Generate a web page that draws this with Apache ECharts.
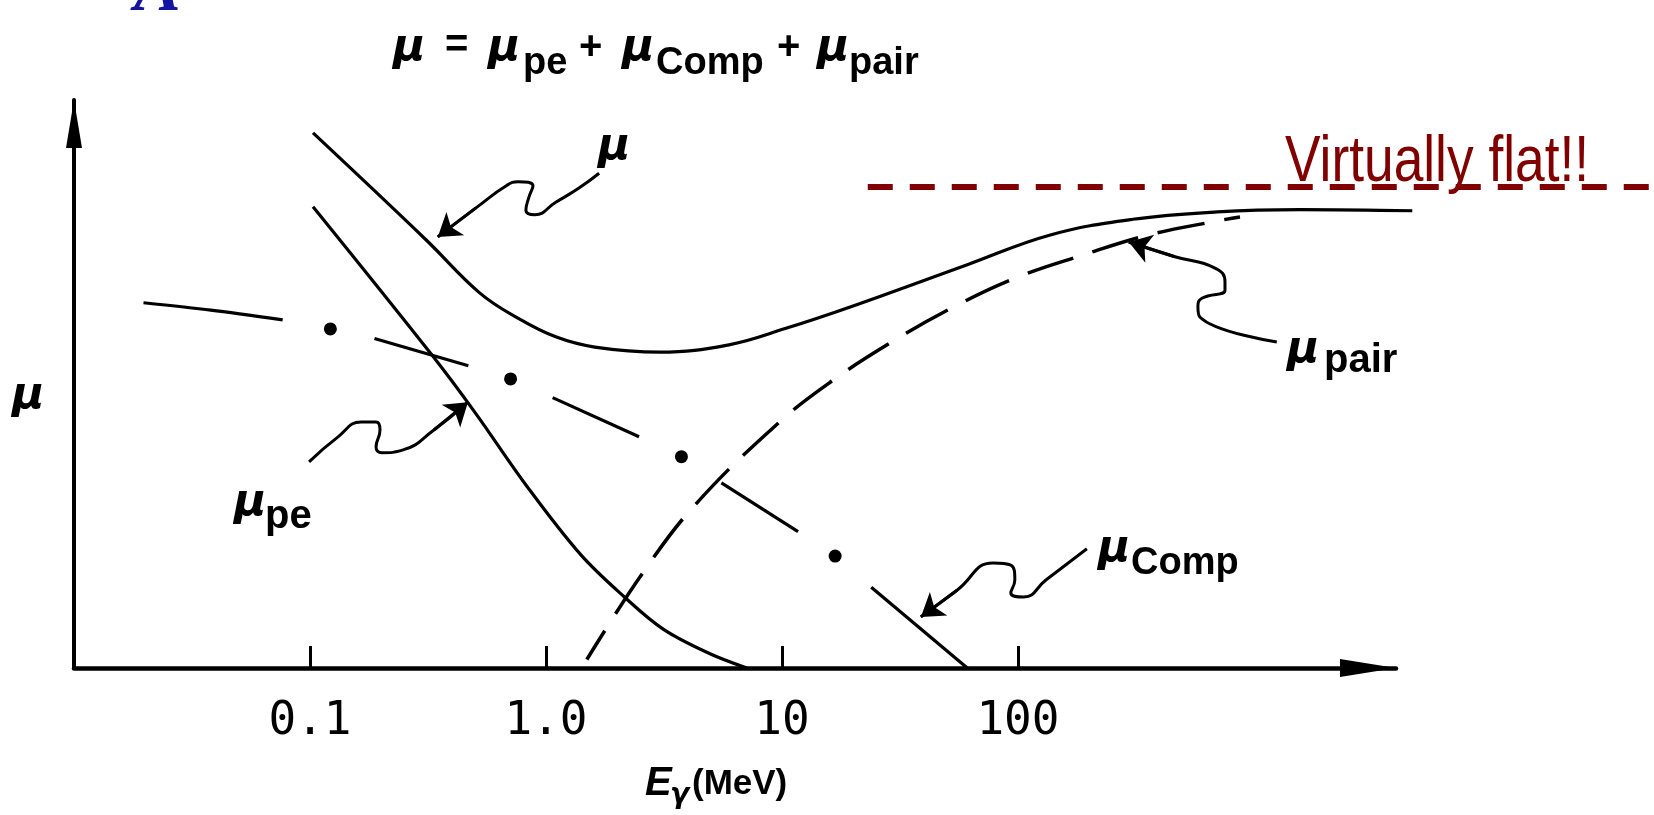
<!DOCTYPE html>
<html>
<head>
<meta charset="utf-8">
<script src="https://cdn.jsdelivr.net/npm/echarts@6/dist/echarts.min.js"></script>
<style>
  html, body { margin: 0; background: #fff; }
  #chart { width: 1654px; height: 815px; }
</style>
</head>
<body>
<div id="chart"></div>
<script>
// gamma energy (MeV) on a log axis, attenuation coefficient in arbitrary units
const tickE = [0.1, 1, 10, 100];
const tickLabels = ["0.1", "1.0", "10", "100"];

// total mu
const totalE = [0.103, 0.31, 0.525, 0.76, 1.1, 1.61, 3.04, 5.96, 10.4, 19.6, 61, 136, 307, 699, 1560, 4690];
const totalMu = [94.2, 75.4, 66.0, 61.6, 58.3, 56.5, 55.6, 56.9, 59.8, 63.6, 71.0, 76.2, 79.0, 80.3, 80.7, 80.5];

// photoelectric
const peE = [0.103, 0.33, 0.5, 0.83, 1.4, 2.15, 3.15, 4.9, 7.1];
const peMu = [81.2, 55.0, 45.0, 32.0, 20.0, 12.5, 6.8, 2.6, 0];

// compton: dashes + dots
const comptonSegE = [[0.0197, 0.038, 0.0766], [0.1876, 0.469], [1.067, 2.48], [5.54, 11.7], [23.9, 61.0]];
const comptonSegMu = [[64.3, 63.0, 61.3], [58.0, 53.2], [47.6, 40.7], [32.6, 24.0], [14.2, 0]];
const comptonDotE = [0.122, 0.708, 3.75, 16.8];
const comptonDotMu = [59.7, 50.9, 37.2, 19.7];

// pair production
const pairE = [1.49, 2.54, 4.28, 9.82, 16.5, 29.2, 52.5, 98.1, 188, 355, 697, 873];
const pairMu = [1.5, 16.4, 28.7, 43.4, 50.7, 57.4, 63.4, 68.7, 72.7, 76.2, 78.7, 79.4];

// "virtually flat" reference line
const flatE = [23.1, 49500];
const flatMu = [84.7, 84.7];

// squiggly pointer arrows (tail -> tip)
const muArrowE = [1.68, 1.38, 1.10, 0.897, 0.822, 0.847, 0.881, 0.761, 0.684, 0.505, 0.348];
const muArrowMu = [87.1, 84.5, 82.0, 79.8, 80.6, 82.9, 84.9, 85.6, 85.0, 81.0, 75.9];
const peArrowE = [0.0991, 0.1315, 0.1645, 0.1905, 0.198, 0.1905, 0.202, 0.248, 0.335, 0.467];
const peArrowMu = [36.3, 40.7, 43.3, 43.3, 41.9, 38.9, 37.9, 38.4, 41.9, 46.8];
const compArrowE = [196, 131.4, 106, 93.3, 97.0, 93.3, 78.3, 55.2, 38.8];
const compArrowMu = [21.0, 15.5, 12.5, 13.2, 15.5, 18.1, 18.5, 13.7, 9.0];
const pairArrowE = [1250, 590, 579, 602, 754, 754, 684, 463, 295];
const pairArrowMu = [57.4, 61.8, 63.6, 65.1, 66.5, 68.0, 70.4, 72.4, 75.0];

const lg = Math.log10;
const pts = (xs, ys) => xs.map((x, i) => [lg(x), ys[i]]);

const black = "#000";
const maroon = "#800000";

// axis grid, and a wider hidden twin (same scale) so marks can run past the arrow
const gridLeft = 74, gridRight = 258, W = 1654;
const xMinLg = lg(0.01), xMaxLg = lg(4000);
const wideMaxLg = xMinLg + (W - gridLeft) * (xMaxLg - xMinLg) / (W - gridLeft - gridRight);

function curve(data, extra) {
    return Object.assign({
        type: "line",
        xAxisIndex: 1,
        yAxisIndex: 1,
        data: data,
        showSymbol: false,
        symbol: "none",
        silent: true,
        lineStyle: { color: black, width: 3.2 },
    }, extra || {});
}

const series = [];
series.push(curve(pts(totalE, totalMu), { smooth: 0.4 }));
series.push(curve(pts(peE, peMu), { smooth: 0.35 }));
comptonSegE.forEach((seg, i) => {
    series.push(curve(pts(seg, comptonSegMu[i]), { smooth: 0.3 }));
});
series.push({
    type: "scatter",
    xAxisIndex: 1,
    yAxisIndex: 1,
    data: pts(comptonDotE, comptonDotMu),
    symbolSize: 13,
    itemStyle: { color: black, opacity: 1 },
    silent: true,
});
series.push(curve(pts(pairE, pairMu), {
    smooth: 0.4,
    lineStyle: { color: black, width: 3.5, type: [48, 20], dashOffset: 14 },
}));
series.push(curve(pts(flatE, flatMu), {
    lineStyle: { color: maroon, width: 6, type: [25, 17] },
}));

const arrows = [
    [muArrowE, muArrowMu],
    [peArrowE, peArrowMu],
    [compArrowE, compArrowMu],
    [pairArrowE, pairArrowMu],
];
arrows.forEach(([xs, ys]) => {
    series.push(curve(pts(xs, ys), { smooth: 0.5, lineStyle: { color: black, width: 3 } }));
});
series.push({
    type: "lines",
    coordinateSystem: "cartesian2d",
    xAxisIndex: 1,
    yAxisIndex: 1,
    silent: true,
    symbol: ["none", "arrow"],
    symbolSize: 22,
    lineStyle: { color: black, width: 3, opacity: 1 },
    data: arrows.map(([xs, ys]) => {
        const n = xs.length;
        return { coords: [[lg(xs[n - 2]), ys[n - 2]], [lg(xs[n - 1]), ys[n - 1]]] };
    }),
});

// text helpers: x = left edge, base = text baseline (px)
const MU = { fontFamily: "DejaVu Sans", fontSize: 44, fontStyle: "italic", fontWeight: "bold" };
const SUB = { fontFamily: "Liberation Sans", fontSize: 38, fontWeight: "bold" };
const SUB2 = { fontFamily: "Liberation Sans", fontSize: 40, fontWeight: "bold" };
const OP = { fontFamily: "Liberation Sans", fontSize: 40, fontWeight: "bold" };

function txt(text, x, base, font, fill, extra) {
    return Object.assign({
        type: "text",
        x: x,
        y: base - font.fontSize * 0.1,
        silent: true,
        style: Object.assign({
            text: text,
            fill: fill || black,
            align: "left",
            verticalAlign: "middle",
        }, font),
    }, extra || {});
}

const fy = 10; // formula row shift
const graphic = [
    // cut-off slide heading letter
    txt("A", 134, -1, { fontFamily: "Liberation Serif", fontSize: 70, fontStyle: "italic", fontWeight: "bold" }, "#1414a0"),
    // formula
    txt("μ", 393, 43 + fy, MU),
    txt("=", 445, 40 + fy, OP),
    txt("μ", 488, 43 + fy, MU),
    txt("pe", 523, 57 + fy, SUB),
    txt("+", 579, 42 + fy, OP),
    txt("μ", 622, 43 + fy, MU),
    txt("Comp", 656, 57 + fy, SUB),
    txt("+", 777, 42 + fy, OP),
    txt("μ", 817, 43 + fy, MU),
    txt("pair", 849, 57 + fy, SUB),
    // curve labels
    txt("μ", 598, 152, MU),
    txt("μ", 234, 508, MU),
    txt("pe", 265, 521, SUB2),
    txt("μ", 1098, 554, MU),
    txt("Comp", 1131, 567, SUB),
    txt("μ", 1287, 355, MU),
    txt("pair", 1324, 365, SUB2),
    // axis names
    txt("μ", 12, 401, MU),
    txt("E", 645, 788, { fontFamily: "Liberation Sans", fontSize: 40, fontStyle: "italic", fontWeight: "bold" }),
    txt("γ", 670, 799, { fontFamily: "DejaVu Sans", fontSize: 28, fontStyle: "italic", fontWeight: "bold" }),
    txt("(MeV)", 692, 788, { fontFamily: "Liberation Sans", fontSize: 35, fontWeight: "bold" }),
    // note
    txt("Virtually flat!!", 1285, 170, { fontFamily: "Liberation Sans", fontSize: 65 }, maroon, { scaleX: 0.82 }),
];

const chart = echarts.init(document.getElementById("chart"));
chart.setOption({
    animation: false,
    backgroundColor: "#fff",
    grid: [
        { left: gridLeft, right: gridRight, top: 100, bottom: 147 },
        { left: gridLeft, right: 0, top: 100, bottom: 147 },
    ],
    xAxis: [
        {
            type: "value",
            gridIndex: 0,
            min: xMinLg,
            max: xMaxLg,
            splitLine: { show: false },
            axisLine: {
                onZero: false,
                lineStyle: { color: black, width: 4.5 },
                symbol: ["none", "triangle"],
                symbolSize: [18, 56],
                symbolOffset: [0, -28],
            },
            axisTick: {
                show: true,
                inside: true,
                length: 22,
                lineStyle: { color: black, width: 3 },
                customValues: tickE.map(lg),
            },
            axisLabel: {
                customValues: tickE.map(lg),
                formatter: (v) => {
                    const i = tickE.findIndex((e) => Math.abs(lg(e) - v) < 1e-6);
                    return i >= 0 ? tickLabels[i] : "";
                },
                fontFamily: "DejaVu Sans Mono",
                fontSize: 46,
                color: black,
                margin: 31,
            },
        },
        { type: "value", gridIndex: 1, min: xMinLg, max: wideMaxLg, show: false },
    ],
    yAxis: [
        {
            type: "value",
            gridIndex: 0,
            min: 0,
            max: 100,
            splitLine: { show: false },
            axisTick: { show: false },
            axisLabel: { show: false },
            axisLine: {
                onZero: false,
                lineStyle: { color: black, width: 4 },
                symbol: ["none", "triangle"],
                symbolSize: [16, 48],
                symbolOffset: [0, -24],
            },
        },
        { type: "value", gridIndex: 1, min: 0, max: 100, show: false },
    ],
    series: series,
    graphic: graphic,
});
</script>
</body>
</html>
